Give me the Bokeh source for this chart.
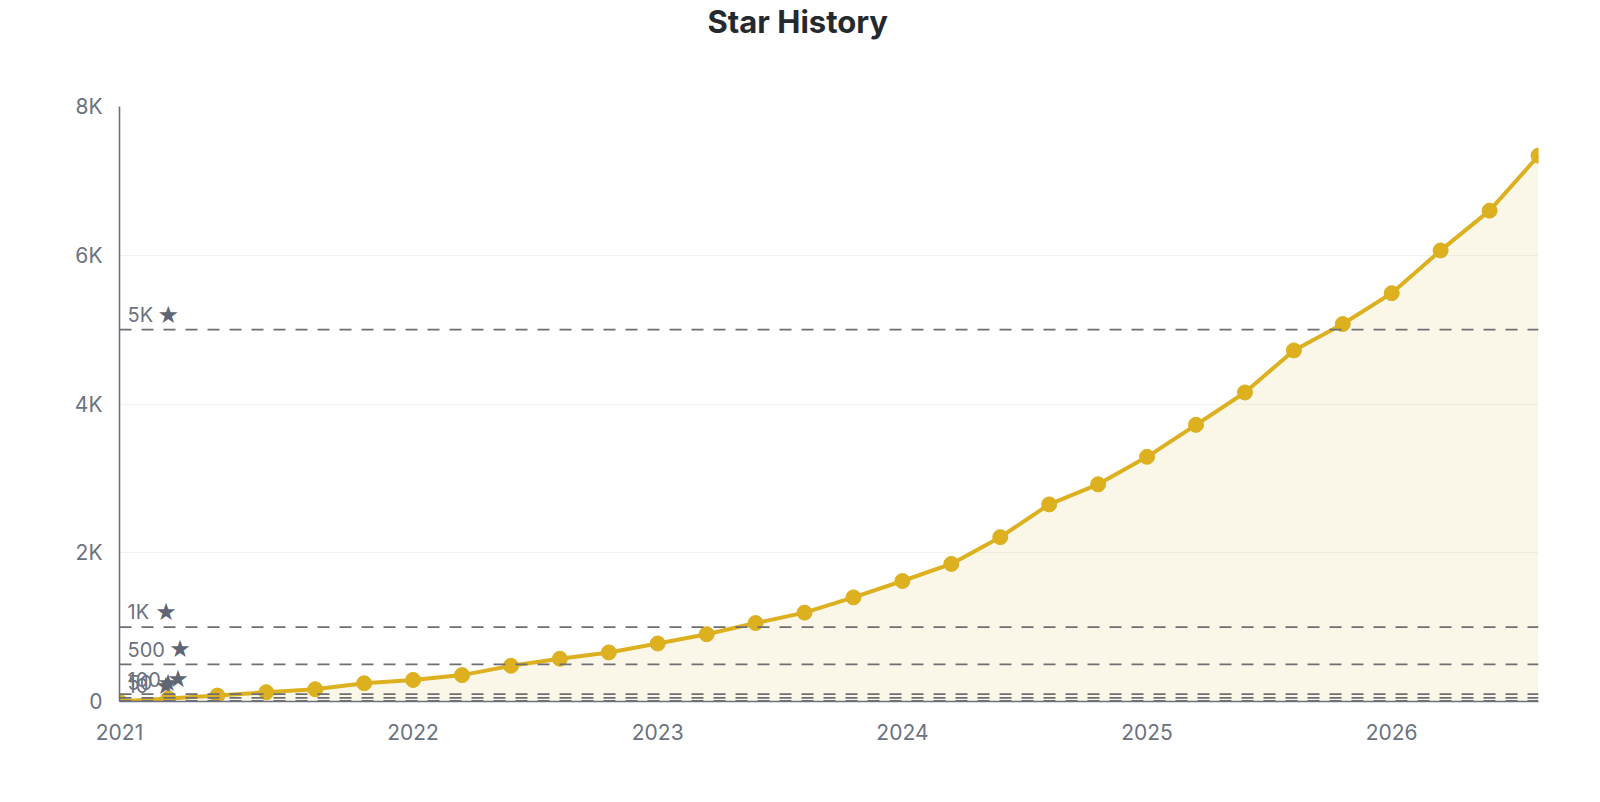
from bokeh.plotting import figure
from bokeh.models import ColumnDataSource, FixedTicker, Range1d, Span, Title
from bokeh.core.properties import value
from bokeh.embed import file_html
from bokeh.resources import INLINE

# ---- data ----
years = [2020.8, 2021.0, 2021.2, 2021.4, 2021.6, 2021.8, 2022.0, 2022.2, 2022.4, 2022.6,
         2022.8, 2023.0, 2023.2, 2023.4, 2023.6, 2023.8, 2024.0, 2024.2, 2024.4, 2024.6,
         2024.8, 2025.0, 2025.2, 2025.4, 2025.6, 2025.8, 2026.0, 2026.2, 2026.4, 2026.6]
stars = [0, 40, 80, 125, 165, 245, 290, 355, 480, 575,
         660, 780, 905, 1055, 1195, 1400, 1620, 1850, 2210, 2650,
         2920, 3290, 3720, 4155, 4720, 5075, 5490, 6065, 6600, 7340]
milestones = [10, 50, 100, 500, 1000, 5000]
milestone_labels = ["10", "50", "100", "500", "1K", "5K"]
x_ticks = [2020.8, 2022, 2023, 2024, 2025, 2026]
x_tick_labels = ["2021", "2022", "2023", "2024", "2025", "2026"]
y_ticks = [0, 2000, 4000, 6000, 8000]
y_tick_labels = ["0", "2K", "4K", "6K", "8K"]

LINE = "#dcb01e"
GRAY = "#6b7280"
DASH = "#6e6e73"
STAR = "#5f6673"
FONT = "Inter"

p = figure(width=1580, height=786, output_backend="svg", toolbar_location=None,
           x_range=Range1d(years[0], years[-1]), y_range=Range1d(0, 8000),
           min_border_left=119, min_border_right=42, min_border_top=0, min_border_bottom=85)
p.title.text = "Star History"
p.title.align = "left"
p.title.offset = 588
p.title.text_font = FONT
p.title.text_font_size = "31px"
p.title.text_font_style = "bold"
p.title.text_color = "#24292e"
p.title.standoff = 0
p.outline_line_color = None
# empty spacer between title and plot area
p.add_layout(Title(text=" ", text_font_size="58px", standoff=0), "above")

src = ColumnDataSource(dict(x=years, y=stars, y0=[0] * len(stars)))

p.varea(x="x", y1="y0", y2="y", source=src, fill_color=LINE, fill_alpha=0.1)

# milestones
for m in milestones:
    p.add_layout(Span(location=m, dimension="width", line_color=DASH,
                      line_dash="12 10", line_width=1.7))
char_w = {"1": 10.0, "K": 12.5}
label_w = [sum(char_w.get(c, 12.2) for c in l) for l in milestone_labels]
msrc = ColumnDataSource(dict(x=[years[0]] * len(milestones), y=milestones,
                             t=milestone_labels,
                             star=["\u2605"] * len(milestones),
                             so=[8 + w + 16 for w in label_w]))
p.text(x="x", y="y", text="t", source=msrc, x_offset=8, y_offset=-15,
       text_font=value(FONT), text_font_size="20px", text_color=GRAY,
       text_baseline="middle", text_align="left")
p.text(x="x", y="y", text="star", source=msrc, x_offset="so", y_offset=-15,
       text_font=value("DejaVu Sans"), text_font_size="24px", text_color=STAR,
       text_baseline="middle", text_align="center")

p.line(x="x", y="y", source=src, line_color=LINE, line_width=4)
p.scatter(x="x", y="y", source=src, size=15, fill_color=LINE, line_color=LINE)

# axes
p.xgrid.grid_line_color = None
p.ygrid.grid_line_color = "#f3f3f3"
p.ygrid.ticker = FixedTicker(ticks=y_ticks)
p.xaxis.ticker = FixedTicker(ticks=x_ticks)
p.xaxis.major_label_overrides = {t: l for t, l in zip(x_ticks, x_tick_labels)}
p.yaxis.ticker = FixedTicker(ticks=y_ticks)
p.yaxis.major_label_overrides = {t: l for t, l in zip(y_ticks, y_tick_labels)}
for ax in (p.xaxis, p.yaxis):
    ax.axis_line_color = GRAY
    ax.axis_line_width = 1.6
    ax.major_tick_line_color = None
    ax.minor_tick_line_color = None
    ax.major_label_text_font = FONT
    ax.major_label_text_font_size = "21px"
    ax.major_label_text_color = GRAY
p.yaxis.major_label_standoff = 11
p.xaxis.major_label_standoff = 16

open("out.html", "w").write(file_html(p, INLINE))
